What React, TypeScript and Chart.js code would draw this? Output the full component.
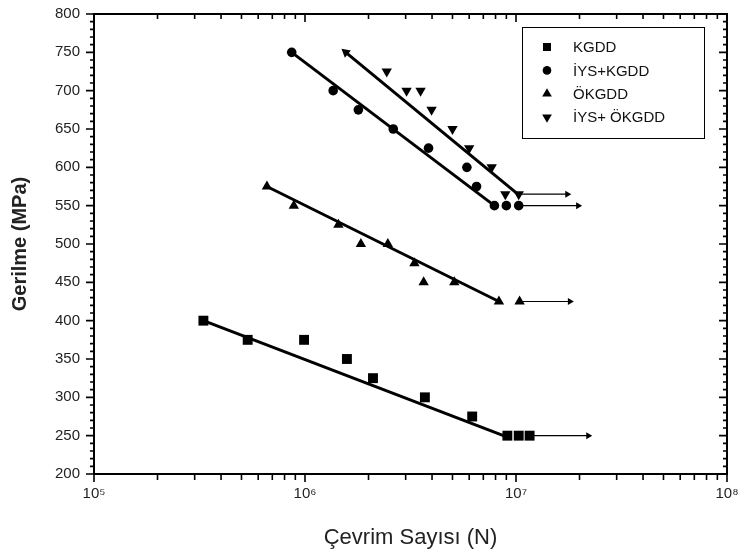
import React, { useEffect, useRef } from 'react';
import { Chart, registerables } from 'chart.js';
import { drawPoint } from 'chart.js/helpers';

Chart.register(...registerables);

// ---- data (cycles N, stress MPa) ----
const kgddCycles = [3.3e5, 5.35e5, 9.9e5, 1.58e6, 2.1e6, 3.7e6, 6.2e6, 9.1e6, 1.03e7, 1.16e7];
const kgddStress = [400, 375, 375, 350, 325, 300, 275, 250, 250, 250];

const iysKgddCycles = [8.65e5, 1.36e6, 1.79e6, 2.62e6, 3.85e6, 5.85e6, 6.5e6, 7.9e6, 9.0e6, 1.03e7];
const iysKgddStress = [750, 700, 675, 650, 625, 600, 575, 550, 550, 550];

const okgddCycles = [6.6e5, 8.85e5, 1.44e6, 1.84e6, 2.47e6, 3.3e6, 3.65e6, 5.1e6, 8.3e6, 1.04e7];
const okgddStress = [575, 550, 525, 500, 500, 475, 450, 450, 425, 425];

const iysOkgddCycles = [2.44e6, 3.03e6, 3.53e6, 3.98e6, 5.0e6, 6.0e6, 7.67e6, 8.9e6, 1.03e7];
const iysOkgddStress = [725, 700, 700, 675, 650, 625, 600, 565, 565];

// fitted lines (start, end)
const kgddFitCycles = [3.3e5, 9.3e6];
const kgddFitStress = [400, 247];
const iysKgddFitCycles = [8.65e5, 7.9e6];
const iysKgddFitStress = [750, 550];
const okgddFitCycles = [6.6e5, 8.3e6];
const okgddFitStress = [575, 425];
const iysOkgddFitCycles = [1.56e6, 1.0e7];
const iysOkgddFitStress = [750, 567];

// run-out arrows
const kgddArrowCycles = [1.16e7, 2.2e7];
const kgddArrowStress = [250, 250];
const iysKgddArrowCycles = [1.03e7, 1.97e7];
const iysKgddArrowStress = [550, 550];
const okgddArrowCycles = [1.04e7, 1.8e7];
const okgddArrowStress = [425, 425];
const iysOkgddArrowCycles = [1.03e7, 1.75e7];
const iysOkgddArrowStress = [565, 565];

const seriesLabels = ['KGDD', 'İYS+KGDD', 'ÖKGDD', 'İYS+ ÖKGDD'];
const xDecades = [5, 6, 7, 8];
const yMin = 200;
const yMax = 800;
const yStep = 50;
const yMinorStep = 10;
const xTitle = 'Çevrim Sayısı (N)';
const yTitle = 'Gerilme (MPa)';

const SUP: Record<string, string> = {
  '0': '⁰', '1': '¹', '2': '²', '3': '³', '4': '⁴', '5': '⁵', '6': '⁶', '7': '⁷', '8': '⁸', '9': '⁹',
};

const FONT = 'Arial, "Liberation Sans", sans-serif';

function pts(xs: number[], ys: number[]) {
  return xs.map((x, i) => ({ x, y: ys[i] }));
}

const markerStyles = [
  { pointStyle: 'rect', radius: 7, rotation: 0, legendRadius: 5.7 },
  { pointStyle: 'circle', radius: 4.8, rotation: 0, legendRadius: 4.3 },
  { pointStyle: 'triangle', radius: 6, rotation: 0, legendRadius: 5.6 },
  { pointStyle: 'triangle', radius: 6, rotation: 180, legendRadius: 5.6 },
];

const framePlugin = {
  id: 'frame',
  afterDraw(chart: any) {
    const { ctx, chartArea: a, scales } = chart;
    const xs = scales.x;
    const ys = scales.y;
    ctx.save();
    ctx.strokeStyle = '#000';
    ctx.lineWidth = 2;
    ctx.strokeRect(a.left, a.top, a.right - a.left, a.bottom - a.top);
    const major = 8;
    const minor = 4;
    ctx.beginPath();
    for (let i = 0; i < xDecades.length; i++) {
      const d = xDecades[i];
      const px = xs.getPixelForValue(Math.pow(10, d));
      ctx.moveTo(px, a.bottom);
      ctx.lineTo(px, a.bottom + major);
      ctx.moveTo(px, a.top);
      ctx.lineTo(px, a.top + major);
      if (i < xDecades.length - 1) {
        for (let m = 2; m <= 9; m++) {
          const p = xs.getPixelForValue(m * Math.pow(10, d));
          ctx.moveTo(p, a.bottom);
          ctx.lineTo(p, a.bottom + minor + 2);
          ctx.moveTo(p, a.top);
          ctx.lineTo(p, a.top + minor + 1);
        }
      }
    }
    for (let v = yMin; v <= yMax; v += yMinorStep) {
      const py = ys.getPixelForValue(v);
      const len = (v - yMin) % yStep === 0 ? major : minor;
      ctx.moveTo(a.left, py);
      ctx.lineTo(a.left - len, py);
      ctx.moveTo(a.right, py);
      ctx.lineTo(a.right - len, py);
    }
    ctx.lineWidth = 1.6;
    ctx.stroke();
    ctx.restore();
  },
};

const legendPlugin = {
  id: 'boxLegend',
  afterDraw(chart: any) {
    const { ctx } = chart;
    ctx.save();
    ctx.fillStyle = '#fff';
    ctx.fillRect(522, 27, 182, 111);
    ctx.strokeStyle = '#000';
    ctx.lineWidth = 1;
    ctx.strokeRect(522.5, 27.5, 182, 111);
    ctx.font = `15px ${FONT}`;
    ctx.textBaseline = 'middle';
    ctx.textAlign = 'left';
    seriesLabels.forEach((label, i) => {
      const y = 47 + i * 23.4;
      const ms = markerStyles[i];
      ctx.fillStyle = '#000';
      ctx.strokeStyle = '#000';
      drawPoint(ctx, { pointStyle: ms.pointStyle as any, rotation: ms.rotation, radius: ms.legendRadius, borderWidth: 0 }, 547, y);
      ctx.fillStyle = '#111';
      ctx.fillText(label, 573, y + 1);
    });
    ctx.restore();
  },
};

export default function App() {
  const ref = useRef<HTMLCanvasElement | null>(null);

  useEffect(() => {
    if (!ref.current) return;

    const scatter = (label: string, xs: number[], ys: number[], i: number) => ({
      label,
      data: pts(xs, ys),
      showLine: false,
      pointStyle: markerStyles[i].pointStyle,
      pointRadius: markerStyles[i].radius,
      pointRotation: markerStyles[i].rotation,
      pointBackgroundColor: '#000',
      pointBorderColor: '#000',
      pointBorderWidth: 0,
      backgroundColor: '#000',
      borderColor: '#000',
      order: 0,
    });

    const fit = (xs: number[], ys: number[], extra: any = {}) => ({
      label: 'fit',
      data: pts(xs, ys),
      showLine: true,
      borderColor: '#000',
      borderWidth: 3,
      pointRadius: 0,
      fill: false,
      order: 1,
      ...extra,
    });

    const arrow = (xs: number[], ys: number[]) => ({
      label: 'arrow',
      data: pts(xs, ys),
      showLine: true,
      borderColor: '#000',
      borderWidth: 1.2,
      pointRadius: [0, 4],
      pointStyle: 'triangle',
      pointRotation: 90,
      pointBackgroundColor: '#000',
      pointBorderWidth: 0,
      fill: false,
      order: 1,
    });

    const startArrowRotation = (c: any) => {
      const ch = c.chart;
      const d = c.dataset.data;
      const xs = ch.scales.x;
      const ys = ch.scales.y;
      const x0 = xs.getPixelForValue(d[0].x);
      const y0 = ys.getPixelForValue(d[0].y);
      const x1 = xs.getPixelForValue(d[1].x);
      const y1 = ys.getPixelForValue(d[1].y);
      return (Math.atan2(x0 - x1, -(y0 - y1)) * 180) / Math.PI;
    };

    const chart = new Chart(ref.current, {
      type: 'scatter',
      data: {
        datasets: [
          scatter(seriesLabels[0], kgddCycles, kgddStress, 0),
          scatter(seriesLabels[1], iysKgddCycles, iysKgddStress, 1),
          scatter(seriesLabels[2], okgddCycles, okgddStress, 2),
          scatter(seriesLabels[3], iysOkgddCycles, iysOkgddStress, 3),
          fit(kgddFitCycles, kgddFitStress),
          fit(iysKgddFitCycles, iysKgddFitStress),
          fit(okgddFitCycles, okgddFitStress),
          fit(iysOkgddFitCycles, iysOkgddFitStress, {
            pointRadius: [5.5, 0],
            pointStyle: 'triangle',
            pointRotation: startArrowRotation,
            pointBackgroundColor: '#000',
            pointBorderWidth: 0,
          }),
          arrow(kgddArrowCycles, kgddArrowStress),
          arrow(iysKgddArrowCycles, iysKgddArrowStress),
          arrow(okgddArrowCycles, okgddArrowStress),
          arrow(iysOkgddArrowCycles, iysOkgddArrowStress),
        ] as any,
      },
      options: {
        animation: false,
        responsive: true,
        maintainAspectRatio: false,
        devicePixelRatio: 1,
        layout: { padding: { top: 14, right: 14, left: 0, bottom: 0 } },
        plugins: {
          legend: { display: false },
          tooltip: { enabled: false },
        },
        events: [],
        scales: {
          x: {
            type: 'logarithmic',
            position: 'bottom',
            min: 1e5,
            max: 1e8,
            grid: { display: false, drawTicks: false },
            border: { display: false },
            ticks: {
              autoSkip: false,
              maxRotation: 0,
              minRotation: 0,
              padding: 11,
              color: '#222',
              font: { family: FONT, size: 15 },
              callback: (v: any) => {
                const l = Math.log10(Number(v));
                const r = Math.round(l);
                if (Math.abs(l - r) < 1e-9 && xDecades.includes(r)) {
                  return '10' + String(r).split('').map((c) => SUP[c]).join('');
                }
                return '';
              },
            },
            title: {
              display: true,
              text: xTitle,
              color: '#222',
              font: { family: FONT, size: 22 },
              padding: { top: 0, bottom: 3 },
            },
            afterFit: (s: any) => {
              s.height = 80;
              s.paddingLeft = 0;
              s.paddingRight = 0;
            },
          },
          y: {
            type: 'linear',
            min: yMin,
            max: yMax,
            grid: { display: false, drawTicks: false },
            border: { display: false },
            ticks: {
              stepSize: yStep,
              padding: 14,
              color: '#222',
              font: { family: FONT, size: 15 },
            },
            title: {
              display: true,
              text: yTitle,
              color: '#222',
              font: { family: FONT, size: 20, weight: 'bold' },
              padding: { top: 8, bottom: 0 },
            },
            afterFit: (s: any) => {
              s.width = 94;
              s.paddingTop = 0;
              s.paddingBottom = 0;
            },
          },
        },
      } as any,
      plugins: [framePlugin, legendPlugin],
    });

    return () => chart.destroy();
  }, []);

  return (
    <div style={{ position: 'fixed', left: 0, top: 0, width: 741, height: 554, background: '#fff' }}>
      <canvas ref={ref} />
    </div>
  );
}
